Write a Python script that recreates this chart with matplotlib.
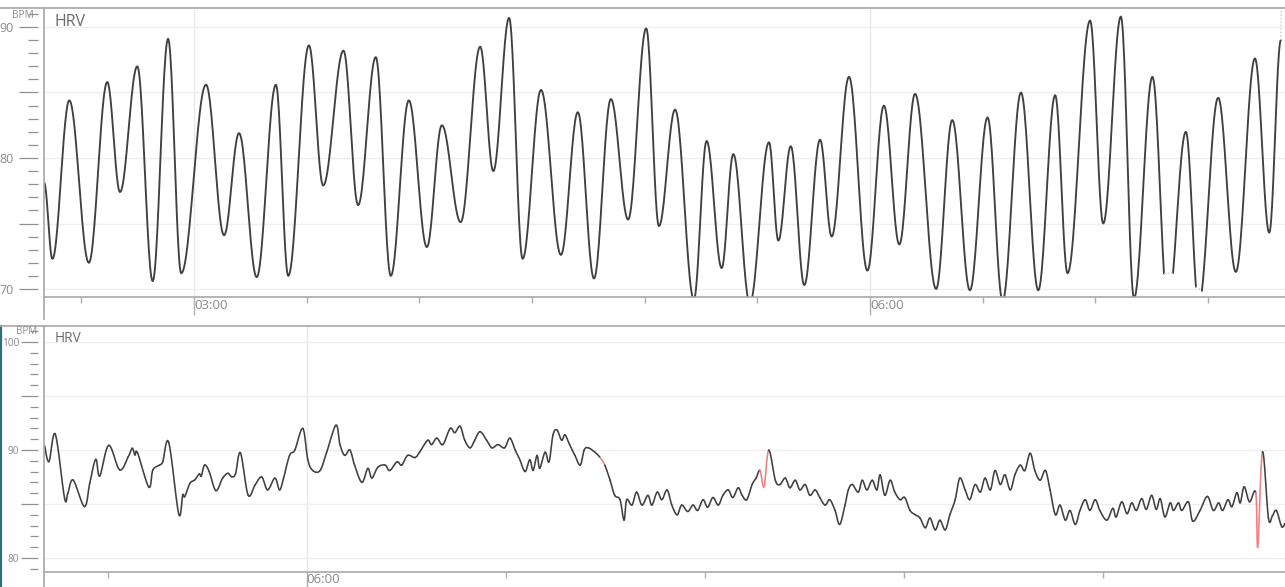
import numpy as np
import matplotlib
matplotlib.use("Agg")
import matplotlib.pyplot as plt
from matplotlib.lines import Line2D
from matplotlib.collections import LineCollection
from matplotlib.ticker import MultipleLocator, FixedLocator

plt.rcParams['font.family'] = ['Open Sans', 'DejaVu Sans']

# ---------------- data (time in minutes after midnight, BPM) ----------------
top_time = [140.1, 142.3, 146.8, 152.0, 156.9, 160.3, 164.9, 169.0, 173.1, 176.6,
            183.2, 188.0, 192.0, 196.7, 201.8, 205.1, 210.6, 214.4, 219.8, 223.7,
            228.4, 232.4, 237.2, 242.0, 246.0, 251.0, 256.2, 259.7, 263.9, 267.5,
            272.4, 277.7, 282.2, 286.5, 291.0, 295.6, 300.4, 303.8, 308.1, 313.1,
            316.5, 320.5, 323.6, 328.0, 333.1, 335.6, 338.9, 342.5, 346.7, 349.8,
            354.4, 359.3, 363.7, 367.8, 372.0, 377.6, 381.9, 386.6, 391.3, 395.3,
            400.2, 404.8, 409.3, 412.6, 418.6, 422.1, 426.8, 430.3, 435.2, 439.3,
            444.1, 447.5, 452.7, 457.4, 462.5, 466.3, 469.4]
top_bpm = [78.1, 72.3, 84.4, 72.0, 85.8, 77.4, 87.0, 70.6, 89.1, 71.2,
           85.6, 74.1, 81.9, 70.9, 85.6, 71.0, 88.6, 77.9, 88.2, 76.4,
           87.7, 71.0, 84.4, 73.2, 82.5, 75.1, 88.5, 79.0, 90.7, 72.3,
           85.2, 72.6, 83.5, 70.8, 84.5, 75.3, 89.9, 74.8, 83.7, 69.2,
           81.3, 71.6, 80.3, 68.9, 81.2, 73.7, 80.9, 70.3, 81.4, 74.0,
           86.2, 71.4, 84.0, 73.4, 84.9, 70.0, 82.9, 69.9, 83.1, 69.1,
           85.0, 69.9, 84.8, 71.2, 90.5, 75.0, 90.8, 69.3, 86.2, 68.6,
           82.0, 68.8, 84.6, 71.3, 87.6, 74.3, 89.0]
top_gap_start = [438.3, 446.8, 469.4]
top_gap_end = [440.7, 448.3, 470.2]
top_gap_end_bpm = [None, None, 91.6]

bot_time = [320.5, 321.15, 322.1, 323.5, 324.0, 324.8, 326.5, 327.3, 328.2, 328.8,
            330.15, 331.8, 333.1, 333.7, 334.1, 334.5, 336.2, 336.8, 337.8, 338.3,
            339.2, 340.7, 341.3, 341.6, 342.4, 343.1, 343.8, 344.1, 344.6, 345.3,
            346.3, 347.3, 348.1, 348.65, 349.25, 350.0, 351.15, 352.2, 353.2, 354.1,
            355.2, 355.9, 356.5, 357.4, 358.2, 359.4, 360.15, 360.9, 362.0, 363.0,
            364.4, 365.0, 365.7, 366.5, 367.2, 368.3, 369.2, 369.8, 370.7, 371.8,
            372.5, 373.6, 374.3, 375.2, 376.3, 377.0, 378.2, 378.8, 379.6, 380.5,
            381.6, 382.3, 383.1, 383.8, 384.6, 385.3, 386.1, 387.1, 387.9, 388.8,
            389.8, 390.6, 391.4, 392.1, 392.9, 393.6, 394.1, 394.7, 395.1, 395.9,
            396.5, 397.1, 397.7, 398.4, 398.9, 399.6, 400.4, 401.2, 401.8, 402.4,
            403.4, 404.2, 404.9, 405.7, 406.4, 407.2, 407.8, 408.2, 409.0, 409.7,
            410.5, 411.4, 412.0, 412.8, 413.5, 414.3, 415.0, 415.8, 416.5, 417.4,
            418.2, 418.9, 419.7, 420.4, 421.2, 422.0, 422.7, 423.5, 424.2, 425.0,
            425.6, 426.3, 427.1, 427.7, 428.3, 428.9, 429.6, 430.6, 431.3, 432.1,
            432.8, 433.6, 434.3, 435.1, 435.8, 436.6, 437.3, 438.1, 438.8, 439.6,
            440.3, 441.1, 441.6, 442.2, 443.1, 443.7, 444.4, 445.2, 445.9, 446.4,
            447.1, 447.9, 448.6, 449.4, 450.1, 450.9, 451.7, 452.4, 453.2, 453.9,
            454.7, 455.4, 456.2, 456.9, 457.7, 458.4, 459.2, 459.9, 460.7, 461.5,
            462.2, 463.0, 463.7, 464.5, 465.2, 466.0, 466.7, 467.5, 468.2, 469.0,
            469.7, 470.5, 471.3, 472.0, 472.8, 473.5, 474.3, 475.0, 475.8, 476.5,
            477.3, 478.0, 478.8, 479.5, 480.55, 481.45, 481.95, 482.8, 483.6, 484.3,
            485.0, 485.8, 486.5, 487.3, 488.0, 488.6, 489.3, 490.1, 490.6, 491.35,
            491.85, 492.85, 493.5, 494.6, 495.7, 496.6, 497.4, 498.0, 498.8, 499.4,
            500.15, 500.65, 501.25, 502.05, 503.0, 503.3, 504.0, 504.9, 505.5, 506.1,
            506.9, 507.4]
bot_bpm = [90.37, 88.92, 91.48, 85.53, 86.02, 87.22, 84.75, 86.94, 89.14, 87.59,
           90.44, 88.15, 89.38, 90.16, 89.54, 89.72, 86.55, 88.15, 88.6, 88.92,
           90.71, 84.07, 85.83, 85.68, 86.92, 87.22, 87.78, 87.59, 88.61, 87.99,
           86.23, 87.38, 87.84, 87.53, 87.78, 89.75, 85.83, 86.76, 87.5, 86.3,
           87.4, 86.3, 87.4, 89.5, 90.0, 92.0, 89.1, 88.1, 88.1, 89.8,
           92.3, 90.5, 89.5, 90.0, 88.6, 87.0, 88.3, 87.4, 88.4, 88.6,
           88.1, 88.9, 88.6, 89.5, 89.3, 89.8, 90.9, 90.5, 91.1, 90.5,
           92.0, 91.6, 92.2, 90.9, 90.2, 90.9, 91.7, 90.9, 90.2, 90.5,
           90.2, 91.1, 90.0, 89.1, 88.0, 89.1, 88.1, 89.5, 88.3, 89.8,
           88.9, 91.4, 91.85, 90.9, 91.4, 90.5, 89.5, 88.6, 90.0, 90.2,
           89.8, 89.3, 88.6, 87.2, 85.8, 85.4, 83.5, 85.4, 84.9, 86.1,
           84.9, 85.8, 84.9, 86.1, 85.4, 86.3, 84.9, 84.0, 84.9, 84.3,
           84.9, 84.4, 85.4, 84.7, 85.6, 84.9, 85.8, 86.3, 85.6, 86.5,
           85.8, 85.4, 86.8, 87.4, 88.1, 86.6, 90.0, 87.2, 86.8, 87.4,
           86.5, 87.2, 86.3, 86.8, 85.8, 86.3, 85.6, 84.9, 85.4, 84.4,
           83.1, 84.9, 86.3, 86.8, 86.1, 87.2, 86.3, 87.2, 86.3, 87.7,
           85.8, 87.2, 86.1, 85.4, 85.6, 84.4, 84.0, 83.7, 82.8, 83.7,
           82.6, 83.5, 82.6, 84.0, 85.4, 87.4, 86.3, 85.4, 86.8, 86.1,
           87.4, 86.3, 88.1, 86.8, 87.7, 86.3, 87.7, 88.6, 88.1, 89.7,
           88.1, 87.2, 88.1, 86.3, 84.0, 84.9, 83.5, 84.4, 83.1, 84.4,
           85.4, 84.4, 85.4, 84.4, 83.5, 84.6, 83.8, 85.2, 84.1, 85.1,
           84.4, 85.5, 84.5, 85.8, 84.5, 85.5, 83.8, 85.1, 84.4, 85.1,
           84.4, 85.2, 83.4, 84.4, 85.7, 84.4, 85.1, 84.4, 85.4, 84.75,
           86.05, 85.1, 86.6, 85.2, 86.05, 81.0, 89.85, 83.7, 83.9, 84.4,
           82.9, 83.2]
# 1 = artifact sample (drawn red)
bot_artifact = [0] * 101 + [1, 1] + [0] * 31 + [1, 1, 1] + [0] * 97 + [1, 1, 1] + [0] * 5

x_major_labels = {180: "03:00", 360: "06:00"}

# ---------------- styling ----------------
W, H = 1285, 587
LINE = '#404040'
FRAME = '#a8a8a8'
TXT = '#8a8a8a'
GRID = '#efefef'


def fx(px):
    return px / W


def fy(py):
    return 1 - py / H


def smooth(ts, vs, n=24):
    xs, ys = [], []
    for i in range(len(ts) - 1):
        t = np.linspace(0, 1, n, endpoint=False)
        mu = (1 - np.cos(np.pi * t)) / 2
        xs.append(ts[i] + (ts[i + 1] - ts[i]) * t)
        ys.append(vs[i] + (vs[i + 1] - vs[i]) * mu)
    xs.append([ts[-1]])
    ys.append([vs[-1]])
    return np.concatenate(xs), np.concatenate(ys)


def catmull(ts, vs, n=8):
    """Catmull-Rom rendering through the given samples, returns per-interval pieces."""
    ts = np.asarray(ts, float)
    vs = np.asarray(vs, float)
    P = np.column_stack([ts, vs])
    P = np.vstack([P[0], P, P[-1]])
    pieces = []
    t = np.linspace(0, 1, n + 1)[:, None]
    for i in range(1, len(P) - 2):
        p0, p1, p2, p3 = P[i - 1], P[i], P[i + 1], P[i + 2]
        c = 0.5 * ((2 * p1) + (-p0 + p2) * t + (2 * p0 - 5 * p1 + 4 * p2 - p3) * t ** 2
                   + (-p0 + 3 * p1 - 3 * p2 + p3) * t ** 3)
        pieces.append(c)
    return pieces


fig = plt.figure(figsize=(W / 100, H / 100), dpi=100)
ax1 = fig.add_axes([fx(44), fy(297), 1 - fx(44), (297 - 8) / H])
ax2 = fig.add_axes([fx(44), fy(571.7), 1 - fx(44), (571.7 - 326) / H])


def style(ax, ylo, yhi, xlo, xhi, ymaj, ylabels, xminor, ylen, ylen_min, ysize, ypad):
    ax.set_xlim(xlo, xhi)
    ax.set_ylim(ylo, yhi)
    for s in ('top', 'right'):
        ax.spines[s].set_visible(False)
    ax.spines['left'].set_position(('outward', 4))
    ax.spines['left'].set_visible(False)
    ax.spines['bottom'].set_color(FRAME)
    ax.spines['bottom'].set_linewidth(1.2)
    ax.yaxis.set_major_locator(FixedLocator(ymaj))
    ax.set_yticklabels(ylabels)
    ax.yaxis.set_minor_locator(MultipleLocator(1))
    ax.tick_params(axis='y', which='major', length=ylen, width=0.9, color='#909090',
                   labelsize=ysize, labelcolor=TXT, pad=ypad)
    ax.tick_params(axis='y', which='minor', length=ylen_min, width=0.9, color='#909090')
    majors = [m for m in x_major_labels if xlo <= m <= xhi]
    ax.xaxis.set_major_locator(FixedLocator(majors))
    ax.set_xticklabels([x_major_labels[m] for m in majors], ha='left')
    ax.xaxis.set_minor_locator(FixedLocator(xminor))
    ax.tick_params(axis='x', which='major', length=13, width=1, color='#b0b0b0',
                   labelsize=9.5, labelcolor=TXT, pad=-11.8)
    ax.tick_params(axis='x', which='minor', length=4.5, width=1, color='#b0b0b0')
    ax.grid(True, which='major', axis='y', color=GRID, lw=1)
    ax.grid(True, which='major', axis='x', color='#e9e9e9', lw=1)
    ax.set_axisbelow(True)


style(ax1, 69.39, 91.45, 140.06, 470.5, [70, 75, 80, 85, 90],
      ['70', '', '80', '', '90'], [150, 210, 240, 270, 300, 330, 390, 420, 450],
      13.7, 7.2, 9, 4.0)
style(ax2, 78.73, 101.48, 320.4, 507.4, [80, 85, 90, 95, 100],
      ['80', '', '90', '', '100'], [330, 390, 420, 450, 480],
      12.2, 5.8, 7.3, 1.8)

# ---- top series ----
tx, ty = smooth(top_time, top_bpm)
ty = ty.copy()
for g0, g1 in zip(top_gap_start, top_gap_end):
    ty[(tx > g0) & (tx < g1)] = np.nan
ax1.plot(tx, ty, color=LINE, lw=1.35, solid_capstyle='round')
valid = ~np.isnan(ty)
for g0, g1, ge in zip(top_gap_start, top_gap_end, top_gap_end_bpm):
    y0 = np.interp(g0, tx[valid], ty[valid])
    if ge is None:
        y1 = np.interp(g1, tx[valid], ty[valid])
        ax1.plot([g0, g1], [y0, y1], color='#b9cde0', lw=1, ls=(0, (1, 1.5)))
    else:
        ax1.plot([g0, g0 + 0.1], [y0, ge], color='#b9cde0', lw=1, ls=(0, (1, 1.5)))

# ---- bottom series ----
fl = np.array(bot_artifact)
pieces = catmull(bot_time, bot_bpm)
cols = ['#f07f7f' if (fl[i] and fl[i + 1]) else LINE for i in range(len(pieces))]
lc = LineCollection(pieces, colors=cols, linewidths=1.15, capstyle='round', joinstyle='round')
ax2.add_collection(lc)

# ---- frame lines & labels ----
strip = Line2D([fx(1.2), fx(1.2)], [fy(326), 0], color='#2f6d80', lw=1.6)
strip.set_zorder(0)
for L in [Line2D([0, 1], [fy(8), fy(8)], color=FRAME, lw=1.2),
          Line2D([fx(44), fx(44)], [fy(8), fy(319)], color=FRAME, lw=1.2),
          Line2D([0, 1], [fy(325.5), fy(325.5)], color=FRAME, lw=1.2),
          Line2D([fx(44), fx(44)], [fy(325.5), 0], color=FRAME, lw=1.2),
          strip]:
    fig.add_artist(L)

fig.text(fx(55), fy(22), "HRV", fontsize=11.5, color='#6a6a6a', va='center', ha='left')
fig.text(fx(55), fy(339), "HRV", fontsize=9.8, color='#6a6a6a', va='center', ha='left')
fig.text(fx(23), fy(15), "BPM", fontsize=7.3, color=TXT, va='center', ha='center')
fig.text(fx(27), fy(332), "BPM", fontsize=7.0, color=TXT, va='center', ha='center')

fig.savefig("out.png", dpi=100, facecolor='white')
